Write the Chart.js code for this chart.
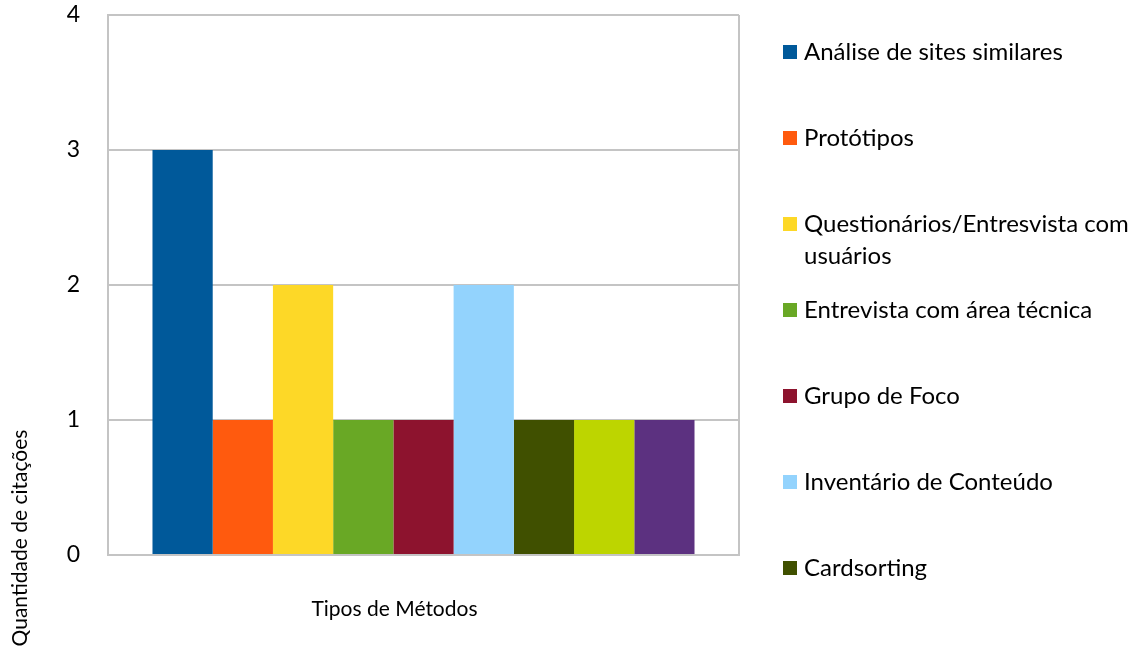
<!DOCTYPE html>
<html>
<head>
<meta charset="utf-8">
<script src="https://cdn.jsdelivr.net/npm/chart.js@4.4.1/dist/chart.umd.min.js"></script>
<style>
  html, body { margin: 0; padding: 0; background: #fff; }
  #wrap { width: 1145px; height: 656px; position: relative; }
</style>
</head>
<body>
<div id="wrap"><canvas id="chart"></canvas></div>
<script>
const categories = ["Tipos de Métodos"];

const methods = [
  "Análise de sites similares",
  "Protótipos",
  "Questionários/Entresvista com usuários",
  "Entrevista com área técnica",
  "Grupo de Foco",
  "Inventário de Conteúdo",
  "Cardsorting",
  "",
  "",
];

const citations = [3, 1, 2, 1, 1, 2, 1, 1, 1];

const colors = [
  "#00599a",
  "#ff5a0e",
  "#fdd827",
  "#69a825",
  "#8d132e",
  "#93d3fd",
  "#405000",
  "#bdd500",
  "#5c3180",
];

const yTicks = [0, 1, 2, 3, 4];

const FONT = "Lato, 'Open Sans', sans-serif";
const GRID = "#c4c4c4";

// Vertical legend with wrapped text, cut off at the bottom edge
const sideLegend = {
  id: "sideLegend",
  afterDraw(chart) {
    const ctx = chart.ctx;
    const x0 = 783;
    const textX = 804;
    const maxW = 1145 - textX - 4;
    const step = 86;
    const lineH = 32;
    let y = 52;
    ctx.save();
    ctx.font = "24px " + FONT;
    ctx.textBaseline = "middle";
    ctx.textAlign = "left";
    chart.data.datasets.forEach((ds) => {
      // word wrap
      const words = ds.label.split(" ");
      const lines = [];
      let cur = "";
      words.forEach((w) => {
        const test = cur ? cur + " " + w : w;
        if (ctx.measureText(test).width > maxW && cur) {
          lines.push(cur);
          cur = w;
        } else {
          cur = test;
        }
      });
      if (cur) lines.push(cur);
      const bottom = y + (lines.length - 1) * lineH + 12;
      if (!ds.label || bottom > chart.height) {
        y += step;
        return;
      }
      ctx.fillStyle = ds.backgroundColor;
      ctx.fillRect(x0, y - 7, 14, 14);
      ctx.fillStyle = "#000";
      lines.forEach((ln, i) => ctx.fillText(ln, textX, y + i * lineH));
      y += step;
    });
    ctx.restore();
  },
};

// Y axis title placed low on the left edge
const yTitle = {
  id: "yTitle",
  afterDraw(chart) {
    const ctx = chart.ctx;
    ctx.save();
    ctx.translate(20, 538);
    ctx.rotate(-Math.PI / 2);
    ctx.font = "21px " + FONT;
    ctx.fillStyle = "#000";
    ctx.textAlign = "center";
    ctx.textBaseline = "middle";
    ctx.fillText("Quantidade de citações", 0, 0);
    ctx.restore();
  },
};

const datasets = citations.map((v, i) => ({
  label: methods[i],
  data: [v],
  backgroundColor: colors[i],
  borderWidth: 0,
}));

new Chart(document.getElementById("chart"), {
  type: "bar",
  data: {
    labels: categories,
    datasets: datasets,
  },
  options: {
    responsive: true,
    maintainAspectRatio: false,
    animation: false,
    categoryPercentage: 0.859,
    barPercentage: 1,
    layout: {
      padding: { left: 0, right: 406, top: 15, bottom: 0 },
    },
    scales: {
      x: {
        grid: { color: GRID, lineWidth: 2, drawTicks: false },
        border: { color: GRID, width: 2 },
        ticks: {
          color: "#000",
          font: { family: FONT, size: 21 },
          padding: 42,
          labelOffset: -29,
        },
        afterFit: (scale) => {
          scale.height = 101;
        },
      },
      y: {
        min: 0,
        max: 4,
        afterBuildTicks: (scale) => {
          scale.ticks = yTicks.map((v) => ({ value: v }));
        },
        grid: { color: GRID, lineWidth: 2, drawTicks: false },
        border: { color: GRID, width: 2 },
        ticks: {
          color: "#000",
          font: { family: FONT, size: 23 },
          padding: 28,
        },
        afterFit: (scale) => {
          scale.width = 108;
          scale.paddingTop = 0;
          scale.paddingBottom = 0;
        },
      },
    },
    plugins: {
      legend: { display: false },
      tooltip: { enabled: false },
    },
  },
  plugins: [sideLegend, yTitle],
});
</script>
</body>
</html>
